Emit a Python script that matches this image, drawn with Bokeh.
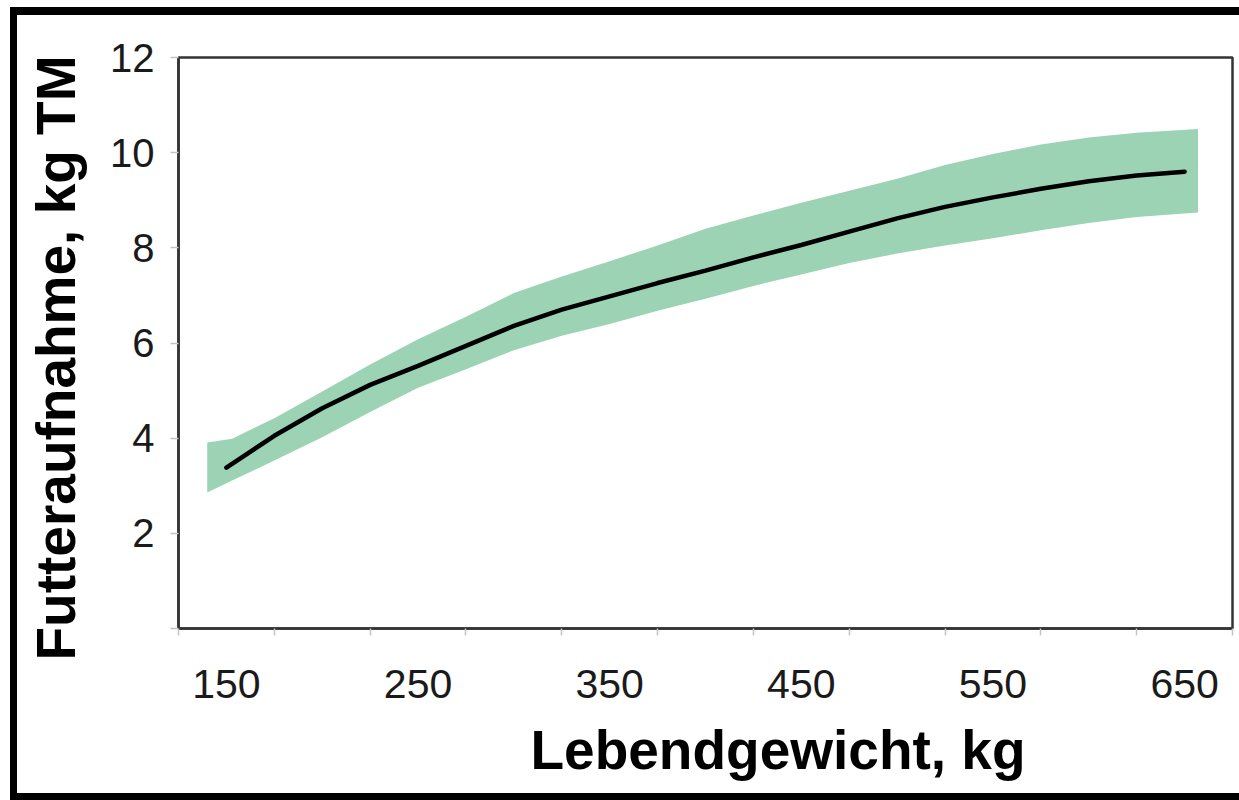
from bokeh.plotting import figure
from bokeh.models import FixedTicker, Title, ColumnDataSource, GlobalInlineStyleSheet
from bokeh.embed import file_html
from bokeh.resources import INLINE

# Dry-matter intake versus live weight: mean curve and its spread
weight_kg = [150, 175, 200, 225, 250, 275, 300, 325, 350, 375, 400,
             425, 450, 475, 500, 525, 550, 575, 600, 625, 650]
intake_mean = [3.38, 4.05, 4.63, 5.12, 5.52, 5.94, 6.36, 6.70, 6.98, 7.26, 7.52,
               7.80, 8.06, 8.34, 8.62, 8.86, 9.06, 9.24, 9.40, 9.52, 9.60]

band_weight = [140, 153, 175, 200, 225, 250, 275, 300, 325, 350, 375, 400,
               425, 450, 475, 500, 525, 550, 575, 600, 625, 657]
intake_upper = [3.91, 3.99, 4.42, 4.98, 5.55, 6.08, 6.55, 7.05, 7.40, 7.72, 8.05, 8.40,
                8.68, 8.95, 9.20, 9.45, 9.74, 9.97, 10.17, 10.32, 10.42, 10.50]
intake_lower = [2.86, 3.11, 3.53, 4.02, 4.55, 5.06, 5.45, 5.85, 6.15, 6.40, 6.68, 6.93,
                7.20, 7.44, 7.68, 7.88, 8.05, 8.20, 8.37, 8.52, 8.65, 8.74]

# Axis ticks
x_label_ticks = [150, 250, 350, 450, 550, 650]
x_minor_ticks = [125, 175, 225, 275, 325, 375, 425, 475, 525, 575, 625, 675]
y_ticks = [0, 2, 4, 6, 8, 10, 12]

FONT = "Liberation Sans"
AXIS_GREY = "#333333"
TICK_GREY = "#c4c4c4"

p = figure(
    width=1239, height=800,
    x_range=(125, 675), y_range=(0, 12),
    output_backend="svg", toolbar_location=None,
    min_border_left=178, min_border_right=7,
    min_border_top=57, min_border_bottom=172,
    background_fill_color="white", border_fill_color=None,
)
# black page frame (left, top, bottom) painted behind the transparent canvas border
bar = "linear-gradient(#000, #000)"
p.styles = {
    "position": "absolute",
    "left": "0px",
    "top": "0px",
    "overflow": "hidden",
    "background": (
        f"{bar} 10px 7px / 7px 793px no-repeat, "
        f"{bar} 10px 7px / 1229px 8px no-repeat, "
        f"{bar} 10px 793px / 1229px 7px no-repeat, "
        "#ffffff"
    ),
}
# the page itself never scrolls
p.stylesheets = [GlobalInlineStyleSheet(css="html, body { margin: 0; overflow: hidden; }")]

band = ColumnDataSource(dict(x=band_weight, lo=intake_lower, hi=intake_upper))
p.varea(x="x", y1="lo", y2="hi", source=band, fill_color="#9cd3b5", fill_alpha=1.0)

curve = ColumnDataSource(dict(x=weight_kg, y=intake_mean))
p.line(x="x", y="y", source=curve, line_color="black", line_width=4.5, line_cap="round")

p.grid.visible = False
p.outline_line_color = AXIS_GREY
p.outline_line_width = 2.5

# x axis: numbers sit between the tick marks
xa = p.xaxis[0]
xa.ticker = FixedTicker(ticks=x_label_ticks, minor_ticks=x_minor_ticks)
xa.axis_line_color = AXIS_GREY
xa.axis_line_width = 2.5
xa.major_tick_out = 0
xa.major_tick_in = 0
xa.minor_tick_out = 7
xa.minor_tick_in = 0
xa.minor_tick_line_color = TICK_GREY
xa.minor_tick_line_width = 1.5
xa.major_label_text_font = FONT
xa.major_label_text_font_size = "41px"
xa.major_label_text_color = "#1a1a1a"
xa.major_label_standoff = 34

# y axis
ya = p.yaxis[0]
ya.ticker = FixedTicker(ticks=y_ticks)
ya.major_label_overrides = {0: ""}
ya.axis_line_color = AXIS_GREY
ya.axis_line_width = 2.5
ya.major_tick_out = 8
ya.major_tick_in = 0
ya.major_tick_line_color = TICK_GREY
ya.major_tick_line_width = 1.5
ya.minor_tick_out = 0
ya.minor_tick_in = 0
ya.major_label_text_font = FONT
ya.major_label_text_font_size = "40px"
ya.major_label_text_color = "#1a1a1a"
ya.major_label_standoff = 16

y_title = Title(
    text="Futteraufnahme, kg TM", align="left", offset=-32, vertical_align="top",
    text_font=FONT, text_font_size="55px", text_font_style="bold",
    text_color="black", standoff=37,
)
p.add_layout(y_title, "left")

x_title = Title(
    text="Lebendgewicht, kg", align="left", offset=352, vertical_align="bottom",
    text_font=FONT, text_font_size="55px", text_font_style="bold",
    text_color="black", standoff=32,
)
p.add_layout(x_title, "below")

open("out.html", "w").write(file_html(p, INLINE))
